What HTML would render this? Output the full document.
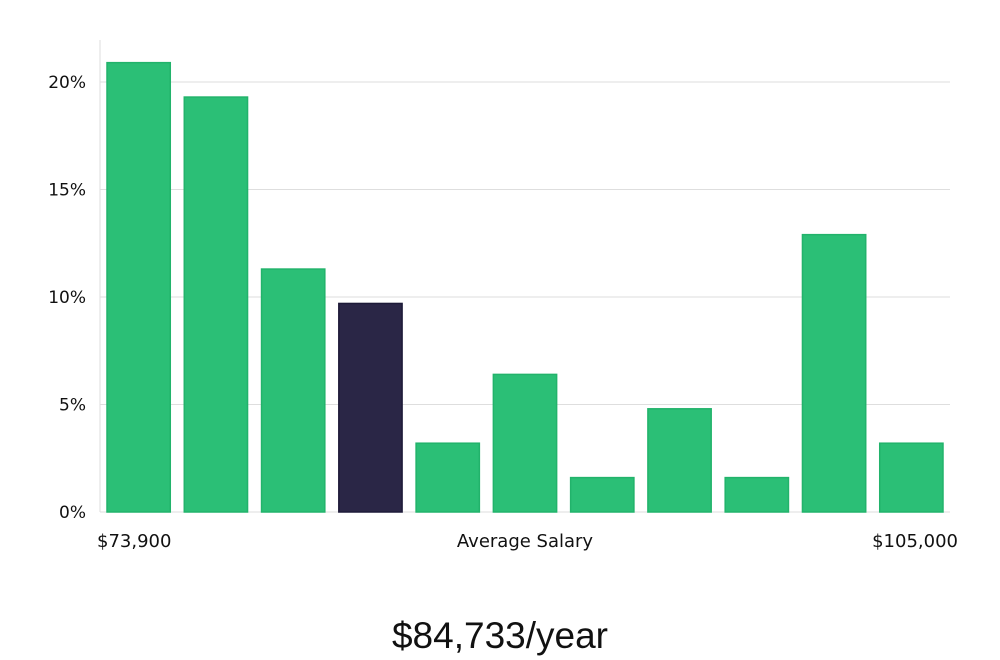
<!DOCTYPE html>
<html><head><meta charset="utf-8"><style>
body{margin:0;background:#fff;font-family:"DejaVu Sans","Liberation Sans",sans-serif;}
svg{display:block}
</style></head><body>
<svg width="1000" height="660" id="chart">
<g id="grid"></g><g id="bars"></g><g id="labels"></g>
</svg>
<script>
const categories=["b1","b2","b3","b4","b5","b6","b7","b8","b9","b10","b11"];
const values=[20.9,19.3,11.3,9.7,3.2,6.4,1.6,4.8,1.6,12.9,3.2];
const highlightIndex=3;
const yTicks=[0,5,10,15,20];
const yTickLabels=["0%","5%","10%","15%","20%"];
const xLabels=["$73,900","Average Salary","$105,000"];
const title="$84,733/year";

const NS="http://www.w3.org/2000/svg";
const x0=100,x1=950,yZero=512,pxPer=21.5;
const band=(x1-x0)/categories.length;
const y=v=>yZero-v*pxPer;
function mk(t,a,p){const e=document.createElementNS(NS,t);for(const k in a)e.setAttribute(k,a[k]);p.appendChild(e);return e;}
const grid=document.getElementById('grid'),bars=document.getElementById('bars'),labels=document.getElementById('labels');
yTicks.forEach((t,i)=>{
  const l=mk('line',{x1:x0,x2:x1,y1:y(t),y2:y(t),stroke:'#dedede','stroke-width':1},grid);
  
  
  const tx=mk('text',{x:86,y:y(t)+6,'text-anchor':'end','font-size':17,fill:'#111'},labels);
  tx.textContent=yTickLabels[i];
  
  
});
const ax=mk('line',{x1:x0,x2:x0,y1:40,y2:yZero,stroke:'#dedede','stroke-width':1},grid);


values.forEach((v,i)=>{
  const hi=i===highlightIndex;
  const r=mk('rect',{x:x0+i*band+7,y:y(v),width:band-14,height:v*pxPer,fill:hi?'#2a2646':'#2bbf76',stroke:hi?'#1d1a38':'#22b36b','stroke-width':1.5},bars);
  
  
});
const xl=[[97,'start'],[525,'middle'],[958,'end']];
xLabels.forEach((s,i)=>{
  const t=mk('text',{x:xl[i][0],y:547,'text-anchor':xl[i][1],'font-size':18,fill:'#111'},labels);
  t.textContent=s;
  
  
});
const tt=mk('text',{x:500,y:648,'text-anchor':'middle','font-size':37,fill:'#111','font-family':'"Liberation Sans",sans-serif'},labels);
tt.textContent=title;


</script>
</body></html>
